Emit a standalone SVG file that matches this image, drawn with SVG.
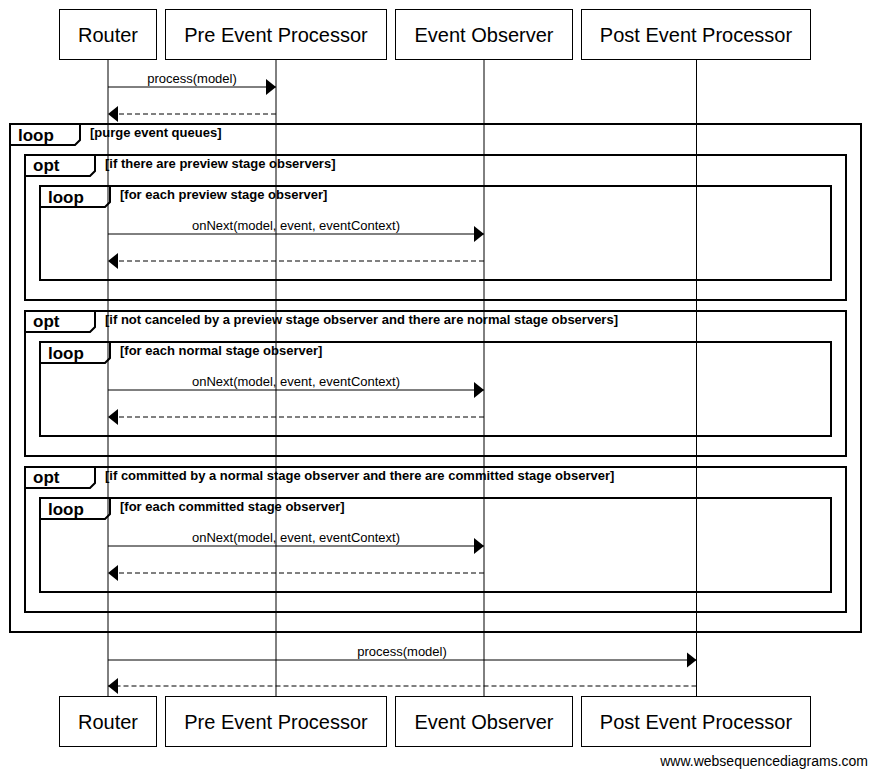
<svg xmlns="http://www.w3.org/2000/svg" width="871" height="771" viewBox="0 0 871 771">
<style>
.box{fill:#fff;stroke:#000;stroke-width:1}
.pt{font-family:"Liberation Sans",Arial,sans-serif;font-size:20px;text-anchor:middle;fill:#000}
.life{stroke:#000;stroke-width:1;fill:none}
.msg{stroke:#000;stroke-width:1;fill:none}
.ret{stroke:#000;stroke-width:1;stroke-dasharray:5 3;fill:none}
.ml{font-family:"Liberation Sans",Arial,sans-serif;font-size:13px;text-anchor:middle;fill:#000}
.fr{fill:none;stroke:#000;stroke-width:2}
.fl{font-family:"Liberation Sans",Arial,sans-serif;font-size:17px;font-weight:bold;fill:#000}
.fc{font-family:"Liberation Sans",Arial,sans-serif;font-size:13px;font-weight:bold;fill:#000}
.wm{font-family:"Liberation Sans",Arial,sans-serif;font-size:14px;text-anchor:end;fill:#000}
</style>
<defs>
<marker id="ah" markerUnits="userSpaceOnUse" markerWidth="10" markerHeight="16" refX="10" refY="8" orient="auto" viewBox="0 0 10 16">
<path d="M0,0 L10,8 L0,16 z" fill="#000" stroke="none"/>
</marker>
</defs>
<rect width="871" height="771" fill="#fff"/>

<g id="frames">
<g id="frame-loop-purge">
<rect class="fr" x="10" y="124" width="851" height="508"/>
<path class="fr" d="M10,145 L75,145 L80,140 L80,124"/>
<text class="fl" x="18" y="141">loop</text>
<text class="fc" x="90" y="137">[purge event queues]</text>
</g>
<g id="frame-opt-preview">
<rect class="fr" x="25" y="155" width="821" height="145"/>
<path class="fr" d="M25,176 L90,176 L95,171 L95,155"/>
<text class="fl" x="33" y="171">opt</text>
<text class="fc" x="105" y="168">[if there are preview stage observers]</text>
</g>
<g id="frame-loop-preview">
<rect class="fr" x="40" y="186" width="791" height="94"/>
<path class="fr" d="M40,207 L105,207 L110,202 L110,186"/>
<text class="fl" x="48" y="203">loop</text>
<text class="fc" x="120" y="199">[for each preview stage observer]</text>
</g>
<g id="frame-opt-normal">
<rect class="fr" x="25" y="311" width="821" height="145"/>
<path class="fr" d="M25,332 L90,332 L95,327 L95,311"/>
<text class="fl" x="33" y="327">opt</text>
<text class="fc" x="105" y="324">[if not canceled by a preview stage observer and there are normal stage observers]</text>
</g>
<g id="frame-loop-normal">
<rect class="fr" x="40" y="342" width="791" height="94"/>
<path class="fr" d="M40,363 L105,363 L110,358 L110,342"/>
<text class="fl" x="48" y="359">loop</text>
<text class="fc" x="120" y="355">[for each normal stage observer]</text>
</g>
<g id="frame-opt-committed">
<rect class="fr" x="25" y="467" width="821" height="145"/>
<path class="fr" d="M25,488 L90,488 L95,483 L95,467"/>
<text class="fl" x="33" y="483">opt</text>
<text class="fc" x="105" y="480">[if committed by a normal stage observer and there are committed stage observer]</text>
</g>
<g id="frame-loop-committed">
<rect class="fr" x="40" y="498" width="791" height="94"/>
<path class="fr" d="M40,519 L105,519 L110,514 L110,498"/>
<text class="fl" x="48" y="515">loop</text>
<text class="fc" x="120" y="511">[for each committed stage observer]</text>
</g>
</g>

<g id="lifelines">
<line class="life" x1="108" y1="60" x2="108" y2="697"/>
<line class="life" x1="276" y1="60" x2="276" y2="697"/>
<line class="life" x1="484" y1="60" x2="484" y2="697"/>
<line class="life" x1="696.5" y1="60" x2="696.5" y2="697"/>
</g>

<g id="connectors">
<line class="msg" x1="108" y1="87" x2="276" y2="87" marker-end="url(#ah)"/>
<text class="ml" x="192" y="83">process(model)</text>
<line class="ret" x1="276" y1="114" x2="108" y2="114" marker-end="url(#ah)"/>

<line class="msg" x1="108" y1="234" x2="484" y2="234" marker-end="url(#ah)"/>
<text class="ml" x="296" y="230">onNext(model, event, eventContext)</text>
<line class="ret" x1="484" y1="261" x2="108" y2="261" marker-end="url(#ah)"/>

<line class="msg" x1="108" y1="390" x2="484" y2="390" marker-end="url(#ah)"/>
<text class="ml" x="296" y="386">onNext(model, event, eventContext)</text>
<line class="ret" x1="484" y1="417" x2="108" y2="417" marker-end="url(#ah)"/>

<line class="msg" x1="108" y1="546" x2="484" y2="546" marker-end="url(#ah)"/>
<text class="ml" x="296" y="542">onNext(model, event, eventContext)</text>
<line class="ret" x1="484" y1="573" x2="108" y2="573" marker-end="url(#ah)"/>

<line class="msg" x1="108" y1="660" x2="696.5" y2="660" marker-end="url(#ah)"/>
<text class="ml" x="402" y="656">process(model)</text>
<line class="ret" x1="696.5" y1="686" x2="108" y2="686" marker-end="url(#ah)"/>
</g>

<g id="router">
<rect class="box" x="59.5" y="9.5" width="97" height="50"/>
<text class="pt" x="108" y="42">Router</text>
<rect class="box" x="59.5" y="696.5" width="97" height="50"/>
<text class="pt" x="108" y="729">Router</text>
</g>
<g id="pre-event-processor">
<rect class="box" x="165.5" y="9.5" width="221" height="50"/>
<text class="pt" x="276" y="42">Pre Event Processor</text>
<rect class="box" x="165.5" y="696.5" width="221" height="50"/>
<text class="pt" x="276" y="729">Pre Event Processor</text>
</g>
<g id="event-observer">
<rect class="box" x="395.5" y="9.5" width="177" height="50"/>
<text class="pt" x="484" y="42">Event Observer</text>
<rect class="box" x="395.5" y="696.5" width="177" height="50"/>
<text class="pt" x="484" y="729">Event Observer</text>
</g>
<g id="post-event-processor">
<rect class="box" x="581.5" y="9.5" width="229" height="50"/>
<text class="pt" x="696" y="42">Post Event Processor</text>
<rect class="box" x="581.5" y="696.5" width="229" height="50"/>
<text class="pt" x="696" y="729">Post Event Processor</text>
</g>

<text class="wm" x="868" y="766">www.websequencediagrams.com</text>
</svg>
